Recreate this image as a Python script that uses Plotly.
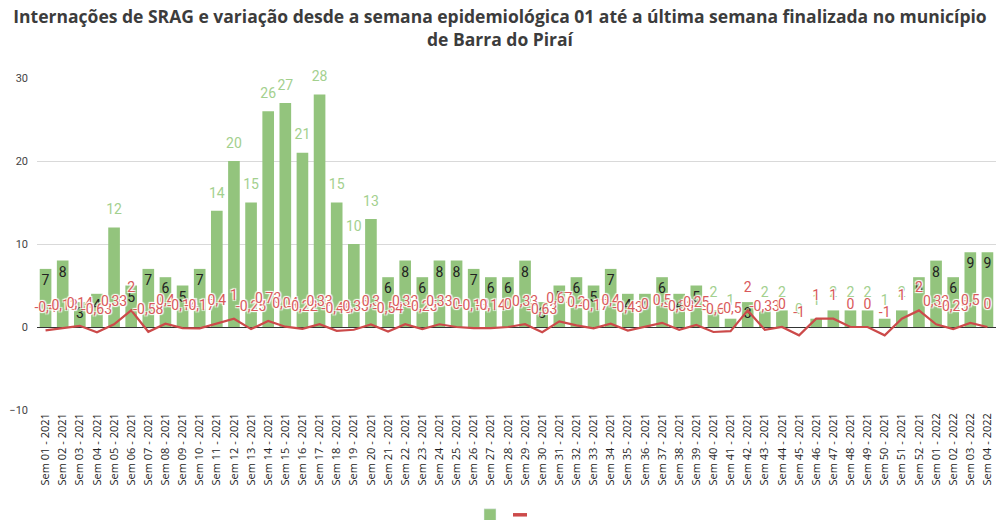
import plotly.graph_objects as go

weeks_2021 = [f"Sem {i:02d} - 2021" for i in range(1, 53)]
weeks_2022 = [f"Sem {i:02d} - 2022" for i in range(1, 5)]
categories = weeks_2021 + weeks_2022

internacoes = [7, 8, 3, 4, 12, 5, 7, 6, 5, 7,
               14, 20, 15, 26, 27, 21, 28, 15, 10, 13,
               6, 8, 6, 8, 8, 7, 6, 6, 8, 3,
               5, 6, 5, 7, 4, 4, 6, 4, 5, 2,
               1, 3, 2, 2, 0, 1, 2, 2, 2, 1,
               2, 6, 8, 6, 9, 9]

variacao = [-0.4, -0.13, 0.14, -0.63, 0.33, 2, -0.58, 0.4, -0.14, -0.17,
            0.4, 1, -0.25, 0.73, 0.04, -0.22, 0.33, -0.46, -0.33, 0.3,
            -0.54, 0.33, -0.25, 0.33, 0, -0.13, -0.14, 0, 0.33, -0.63,
            0.67, 0.2, -0.17, 0.4, -0.43, 0, 0.5, -0.33, 0.25, -0.6,
            -0.5, 2, -0.33, 0, -1, 1, 1, 0, 0, -1,
            1, 2, 0.33, -0.25, 0.5, 0]


def fmt(v):
    s = f"{v:.2f}".rstrip("0").rstrip(".")
    if s in ("-0", ""):
        s = "0"
    return s.replace(".", ",")


var_labels = [fmt(v) for v in variacao]

inside_text = [str(v) if 3 <= v <= 9 else "" for v in internacoes]
out_x = [c for c, v in zip(categories, internacoes) if not (3 <= v <= 9)]
out_y = [v for v in internacoes if not (3 <= v <= 9)]
out_text = [str(v) for v in out_y]

GREEN = "#93c47d"
RED = "#cc4a4a"
halo = "1px 1px 1px #fff, -1px -1px 1px #fff, 1px -1px 1px #fff, -1px 1px 1px #fff"

fig = go.Figure()

fig.add_trace(go.Bar(
    x=categories, y=internacoes, name="",
    marker=dict(color=GREEN, line=dict(width=0)),
    text=inside_text, textposition="inside", insidetextanchor="end",
    textangle=0, constraintext="none",
    insidetextfont=dict(family="Roboto", size=14, color="#222222"),
    hoverinfo="skip", showlegend=False,
))

fig.add_trace(go.Scatter(
    x=out_x, y=out_y, mode="markers+text", text=out_text,
    textposition="top center",
    marker=dict(size=14, opacity=0),
    textfont=dict(family="Roboto", size=14, color="#a3d08e"),
    showlegend=False, hoverinfo="skip", cliponaxis=False,
))

fig.add_trace(go.Scatter(
    x=categories, y=variacao, mode="lines", name="",
    line=dict(color=RED, width=2.2),
    hoverinfo="skip", showlegend=False,
))

fig.add_trace(go.Scatter(
    x=categories, y=variacao, mode="markers+text", text=var_labels,
    textposition="top center",
    marker=dict(size=22, opacity=0),
    textfont=dict(family="Roboto", size=14, color="#d9595b", shadow=halo),
    showlegend=False, hoverinfo="skip", cliponaxis=False,
))

# legend-only entries (symbols without text, as in the reference)
fig.add_trace(go.Bar(x=[None], y=[None], name="", marker=dict(color=GREEN),
                     showlegend=True, hoverinfo="skip", legend="legend"))
fig.add_trace(go.Scatter(x=[None], y=[None], name="", mode="markers",
                         marker=dict(symbol="line-ew", size=10,
                                     line=dict(color=RED, width=3.5)),
                         showlegend=True, hoverinfo="skip", legend="legend2"))

fig.update_layout(
    width=1000, height=520,
    margin=dict(l=37, r=4, t=78, b=110),
    paper_bgcolor="white", plot_bgcolor="white",
    bargap=0.32,
    title=dict(
        text="Internações de SRAG e variação desde a semana epidemiológica 01 até a última semana finalizada no município<br>de Barra do Piraí",
        x=0.5, xanchor="center", y=0.955, yanchor="top",
        font=dict(family="Open Sans", size=17.5, color="#3c3c3c", weight="bold"),
    ),
    showlegend=True,
    legend=dict(orientation="h", x=0.47, xanchor="left", xref="container",
                yref="container", y=0.01, yanchor="middle",
                font=dict(size=11), bgcolor="rgba(0,0,0,0)"),
    legend2=dict(orientation="h", x=0.50, xanchor="left", xref="container",
                 yref="container", y=0.01, yanchor="middle",
                 font=dict(size=11), bgcolor="rgba(0,0,0,0)"),
    xaxis=dict(
        type="category", tickangle=-90, range=[-0.5, 55.5],
        tickfont=dict(family="Open Sans", size=11, color="#222222"),
        showgrid=False, showline=False, ticks="",
    ),
    yaxis=dict(
        range=[-10, 30], tickvals=[-10, 0, 10, 20, 30],
        tickfont=dict(family="Roboto", size=11, color="#444444"),
        showgrid=True, gridcolor="#d9d9d9", gridwidth=1,
        zeroline=True, zerolinecolor="#333333", zerolinewidth=1,
        ticklabelstandoff=8, showline=False,
    ),
)

fig.write_html("out.html", config={"displayModeBar": False},
               post_script="document.body.style.margin='0';")
